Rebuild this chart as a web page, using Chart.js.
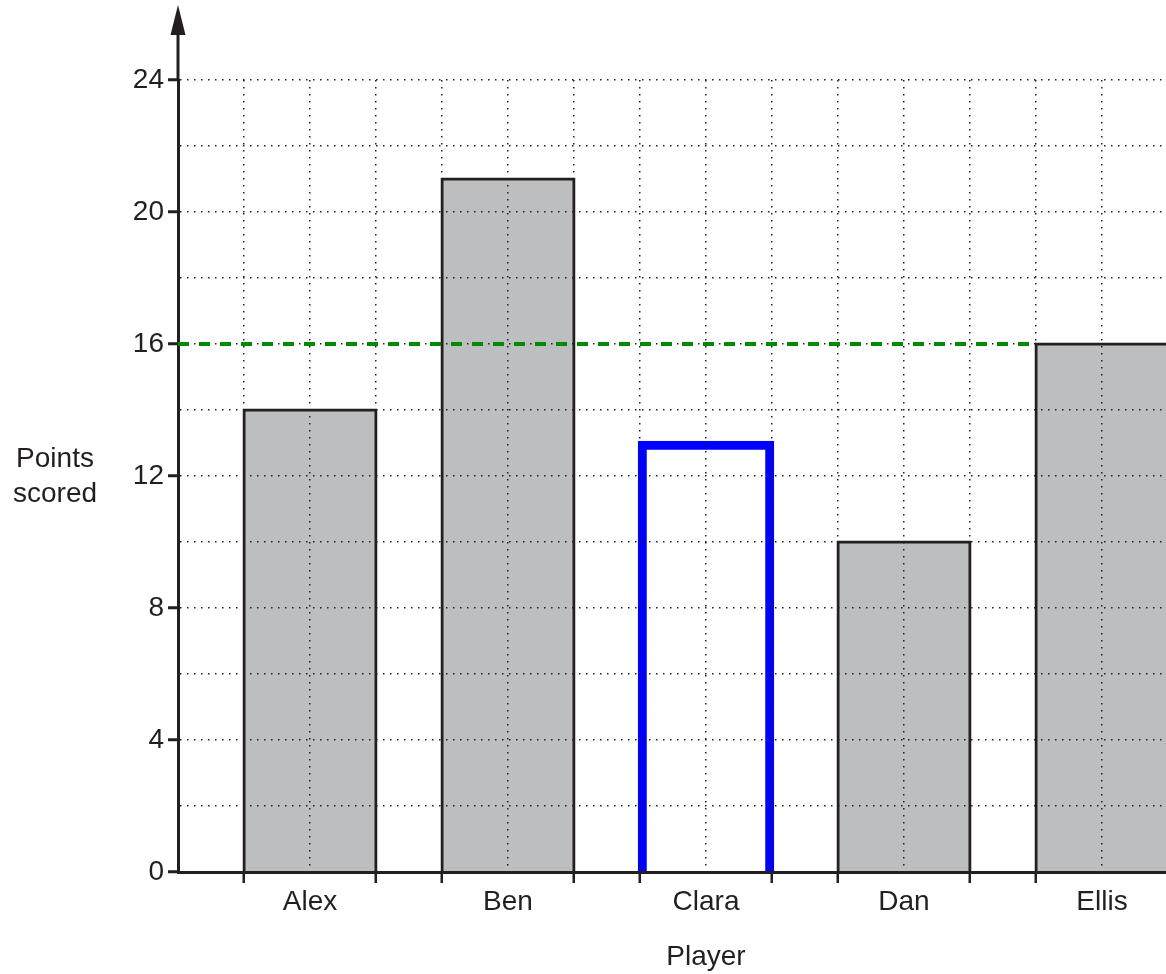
<!DOCTYPE html>
<html>
<head>
<meta charset="utf-8">
<script src="https://cdn.jsdelivr.net/npm/chart.js@4.4.0/dist/chart.umd.min.js"></script>
<style>
  html, body { margin: 0; padding: 0; background: #fff; overflow: hidden; }
  #wrap { width: 1170px; height: 974px; }
</style>
</head>
<body>
<div id="wrap"><canvas id="chart" width="1170" height="974"></canvas></div>
<script>
// dados
const players = ['Alex', 'Ben', 'Clara', 'Dan', 'Ellis'];
const points = [14, 21, 13, 10, 16];
const yTickLabels = [0, 4, 8, 12, 16, 20, 24];
const highlighted = 'Clara';
const xTitle = 'Player';
const yTitle = ['Points', 'scored'];

const ink = '#231f20';
const fontFamily = '"Liberation Sans", Arial, Helvetica, sans-serif';
const dotted = [1.5, 5.5];

// cada jogador ocupa 3 unidades no eixo x: barra de 2 unidades + 1 de espaço
const barCentre = i => 2 + 3 * i;
const barData = players.map((p, i) => ({ x: barCentre(i), y: points[i] }));
const lastIdx = players.length - 1;
const guideData = [
    { x: 0, y: points[lastIdx] },
    { x: barCentre(lastIdx) - 1, y: points[lastIdx] }
];

const axisExtras = {
    id: 'axisExtras',
    afterDraw(chart) {
        const { ctx, chartArea, scales: { x, y } } = chart;
        // linha verde por cima da grade pontilhada
        chart.getDatasetMeta(1).controller.draw();

        const ax = x.getPixelForValue(0);
        ctx.save();
        ctx.strokeStyle = ink;
        ctx.fillStyle = ink;
        ctx.lineWidth = 3;
        ctx.beginPath();
        ctx.moveTo(ax, chartArea.top);
        ctx.lineTo(ax, 30);
        ctx.stroke();
        ctx.beginPath();
        ctx.moveTo(ax, 5);
        ctx.lineTo(ax - 7.5, 35);
        ctx.lineTo(ax + 7.5, 35);
        ctx.closePath();
        ctx.fill();

        ctx.font = '28px ' + fontFamily;
        ctx.textAlign = 'center';
        ctx.textBaseline = 'middle';
        const ty = y.getPixelForValue(12);
        ctx.fillText(yTitle[0], 55, ty - 17);
        ctx.fillText(yTitle[1], 55, ty + 18);
        ctx.fillText(xTitle, x.getPixelForValue(barCentre(2)), 957);
        ctx.restore();
    }
};

new Chart(document.getElementById('chart').getContext('2d'), {
    data: {
        datasets: [{
            type: 'bar',
            data: barData,
            backgroundColor: players.map(p => p === highlighted ? 'rgba(0,0,0,0)' : '#bcbec0'),
            borderColor: players.map(p => p === highlighted ? '#0000ff' : ink),
            borderWidth: players.map(p => p === highlighted ? 4.5 : 3),
            // borda centrada na aresta da barra, como no original
            inflateAmount: players.map(p => p === highlighted ? 2.25 : 1.5),
            // o Chart.js mede a largura pelo passo dos ticks (1 unidade), a barra tem 2
            categoryPercentage: 1,
            barPercentage: 2,
            order: 2
        }, {
            type: 'line',
            data: guideData,
            borderColor: '#008a00',
            borderWidth: 4,
            borderDash: [11, 10],
            pointRadius: 0,
            fill: false,
            order: 1
        }]
    },
    options: {
        responsive: false,
        animation: false,
        layout: { padding: { top: 80, right: 2, left: 0, bottom: 0 } },
        plugins: { legend: { display: false }, tooltip: { enabled: false } },
        scales: {
            x: {
                type: 'linear',
                min: 0,
                max: 15,
                offset: false,
                grid: {
                    z: 1,   // grade pontilhada por cima das barras
                    offset: false,
                    color: ink,
                    lineWidth: 1.5,
                    tickLength: 11,
                    tickWidth: 2.5,
                    tickColor: c => (c.tick && c.tick.value % 3 !== 2 && c.tick.value !== 0) ? ink : 'rgba(0,0,0,0)'
                },
                border: { color: ink, width: 3, dash: dotted, z: 2 },
                ticks: {
                    stepSize: 1,
                    autoSkip: false,
                    maxRotation: 0,
                    padding: 2,
                    color: ink,
                    font: { size: 28, family: fontFamily },
                    callback: v => (v % 3 === 2) ? players[(v - 2) / 3] : ''
                },
                afterFit: s => { s.height = 102; }
            },
            y: {
                min: 0,
                max: 24,
                grid: {
                    z: 1,
                    color: ink,
                    lineWidth: 1.5,
                    tickLength: 10,
                    tickWidth: 3,
                    tickColor: c => (c.tick && yTickLabels.includes(c.tick.value)) ? ink : 'rgba(0,0,0,0)'
                },
                border: { color: ink, width: 3, dash: dotted, z: 2 },
                ticks: {
                    stepSize: 2,
                    padding: 4,
                    color: ink,
                    font: { size: 28, family: fontFamily },
                    callback: v => yTickLabels.includes(v) ? v : ''
                },
                afterFit: s => { s.width = 178; }
            }
        }
    },
    plugins: [axisExtras]
});
</script>
</body>
</html>
